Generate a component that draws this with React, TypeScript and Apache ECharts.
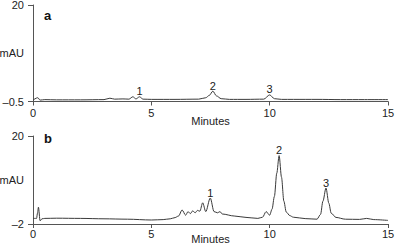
import React, { useEffect, useRef } from "react";
import * as echarts from "echarts";

// Chromatogram traces: [minutes, mAU]
const traceA: [number, number][] = [
  [0, -0.2], [0.2, 0.3], [0.3, -0.2], [0.5, -0.1], [1, -0.15], [2, -0.15], [3, -0.1],
  [3.25, 0.2], [3.45, 0.0], [3.8, 0.05], [4.05, 0.0], [4.22, 0.5], [4.35, 0.05],
  [4.5, 0.5], [4.65, 0.0], [5, -0.05], [6, -0.05], [7, 0.0], [7.3, 0.3], [7.45, 0.8],
  [7.6, 1.7], [7.75, 0.7], [7.95, 0.1], [8.3, -0.05], [9, -0.05], [9.75, 0.0],
  [10.0, 0.9], [10.2, 0.1], [10.5, -0.05], [11, -0.05], [12, -0.05], [13, -0.1],
  [14, -0.1], [15, -0.1],
];

const traceB: [number, number][] = [
  [0, -0.6], [0.15, -0.6], [0.19, 0.7], [0.23, 2.2], [0.3, -1.2], [0.38, -0.7],
  [0.5, -0.6], [1, -0.55], [2, -0.6], [3, -0.7], [4, -0.8], [5, -1.0], [5.5, -0.9],
  [5.8, -0.7], [6.0, -0.4], [6.15, 0.0], [6.3, 1.5], [6.45, 0.2], [6.55, 1.1],
  [6.65, 0.6], [6.75, 1.3], [6.85, 0.8], [6.95, 1.4], [7.05, 1.2], [7.17, 3.3],
  [7.3, 1.1], [7.49, 4.5], [7.65, 1.1], [7.8, 0.8], [7.9, 1.1], [8.0, 0.5],
  [8.5, 0.0], [9.0, -0.35], [9.5, -0.6], [9.7, -0.3], [9.85, 1.1], [10.0, 0.2],
  [10.1, 1.7], [10.2, 4.9], [10.3, 10.7], [10.4, 15.1], [10.5, 9.7], [10.6, 3.7],
  [10.7, 1.0], [10.85, 0.1], [11.0, -0.3], [11.5, -0.65], [12.0, -0.8],
  [12.15, 0.4], [12.25, 3.7], [12.38, 7.0], [12.5, 3.2], [12.6, 0.7], [12.8, -0.35],
  [13.2, -0.8], [13.8, -0.85], [14.1, -0.6], [14.4, -0.9], [15, -1.1],
];

// Peak annotations: [minutes, mAU at apex]
const peakLabels = ["1", "2", "3"];
const peaksA: [number, number][] = [[4.5, 0.5], [7.6, 1.7], [10.0, 0.9]];
const peaksB: [number, number][] = [[7.49, 4.5], [10.4, 15.1], [12.38, 7.0]];

const yTicksA = [-0.5, 20];
const yTicksB = [-2, 20];
const panelLetters = ["a", "b"];
const xName = "Minutes";
const yName = "mAU";

const FONT = "'Liberation Sans', Arial, Helvetica, sans-serif";
const AXIS = "#555";
const TEXT = "#222";
const LINE = "#3a3a3a";

export default function App() {
  const ref = useRef<HTMLDivElement>(null);
  useEffect(() => {
    if (!ref.current) return;
    const chart = echarts.init(ref.current, undefined, { renderer: "svg" });
    const fmt = (v: number) => String(v).replace("-", "\u2013");
    const mkX = (gridIndex: number, margin: number, gap: number) => ({
      type: "value" as const,
      gridIndex,
      min: 0,
      max: 15,
      interval: 5,
      name: xName,
      nameLocation: "middle" as const,
      nameGap: gap,
      nameMoveOverlap: false,
      nameTextStyle: { fontFamily: FONT, fontSize: 11, color: TEXT },
      axisLine: { show: true, onZero: false, lineStyle: { color: AXIS, width: 1 } },
      axisTick: { show: true, length: 4, lineStyle: { color: AXIS } },
      axisLabel: {
        margin,
        fontFamily: FONT,
        fontSize: 11,
        color: TEXT,
      },
      splitLine: { show: false },
    });
    const mkY = (gridIndex: number, ticks: number[]) => ({
      type: "value" as const,
      gridIndex,
      min: ticks[0],
      max: ticks[1],
      name: yName,
      nameLocation: "middle" as const,
      nameRotate: 0,
      nameGap: 9,
      nameMoveOverlap: false,
      nameTextStyle: { fontFamily: FONT, fontSize: 11, color: TEXT },
      axisLine: { show: true, onZero: false, lineStyle: { color: AXIS, width: 1 } },
      axisTick: { show: true, length: 5, customValues: ticks, lineStyle: { color: AXIS } },
      axisLabel: {
        customValues: ticks,
        margin: 9,
        fontFamily: FONT,
        fontSize: 11,
        color: TEXT,
        formatter: (v: number) => fmt(v),
      },
      splitLine: { show: false },
    });
    const mkSeries = (idx: number, data: [number, number][], peaks: [number, number][]) => ({
      type: "line" as const,
      xAxisIndex: idx,
      yAxisIndex: idx,
      data,
      showSymbol: false,
      smooth: 0.3,
      smoothMonotone: "x" as const,
      lineStyle: { color: LINE, width: 1 },
      silent: true,
      markPoint: {
        symbol: "circle",
        symbolSize: 0,
        silent: true,
        itemStyle: { color: "transparent" },
        label: {
          show: true,
          position: "top" as const,
          distance: 0,
          fontFamily: FONT,
          fontSize: 11,
          color: TEXT,
          formatter: (p: any) => p.name,
        },
        data: peaks.map((p, i) => ({
          name: peakLabels[i],
          coord: p,
          label: { color: TEXT },
        })),
      },
    });
    chart.setOption({
      animation: false,
      grid: [
        { left: 33, right: 12, top: 5, height: 96.5, containLabel: false, outerBoundsMode: "none" },
        { left: 33, right: 12, top: 136, height: 88, containLabel: false, outerBoundsMode: "none" },
      ],
      xAxis: [mkX(0, 6, 14), mkX(1, 4, 9.5)],
      yAxis: [mkY(0, yTicksA), mkY(1, yTicksB)],
      series: [mkSeries(0, traceA, peaksA), mkSeries(1, traceB, peaksB)],
      graphic: [
        {
          type: "text",
          left: 44,
          top: 9,
          style: { text: panelLetters[0], font: `bold 13px ${FONT}`, fill: "#111" },
        },
        {
          type: "text",
          left: 44,
          top: 132,
          style: { text: panelLetters[1], font: `bold 13px ${FONT}`, fill: "#111" },
        },
      ],
    });
    return () => chart.dispose();
  }, []);
  return (
    <div
      ref={ref}
      style={{ position: "absolute", left: 0, top: 0, width: 400, height: 247 }}
    />
  );
}
